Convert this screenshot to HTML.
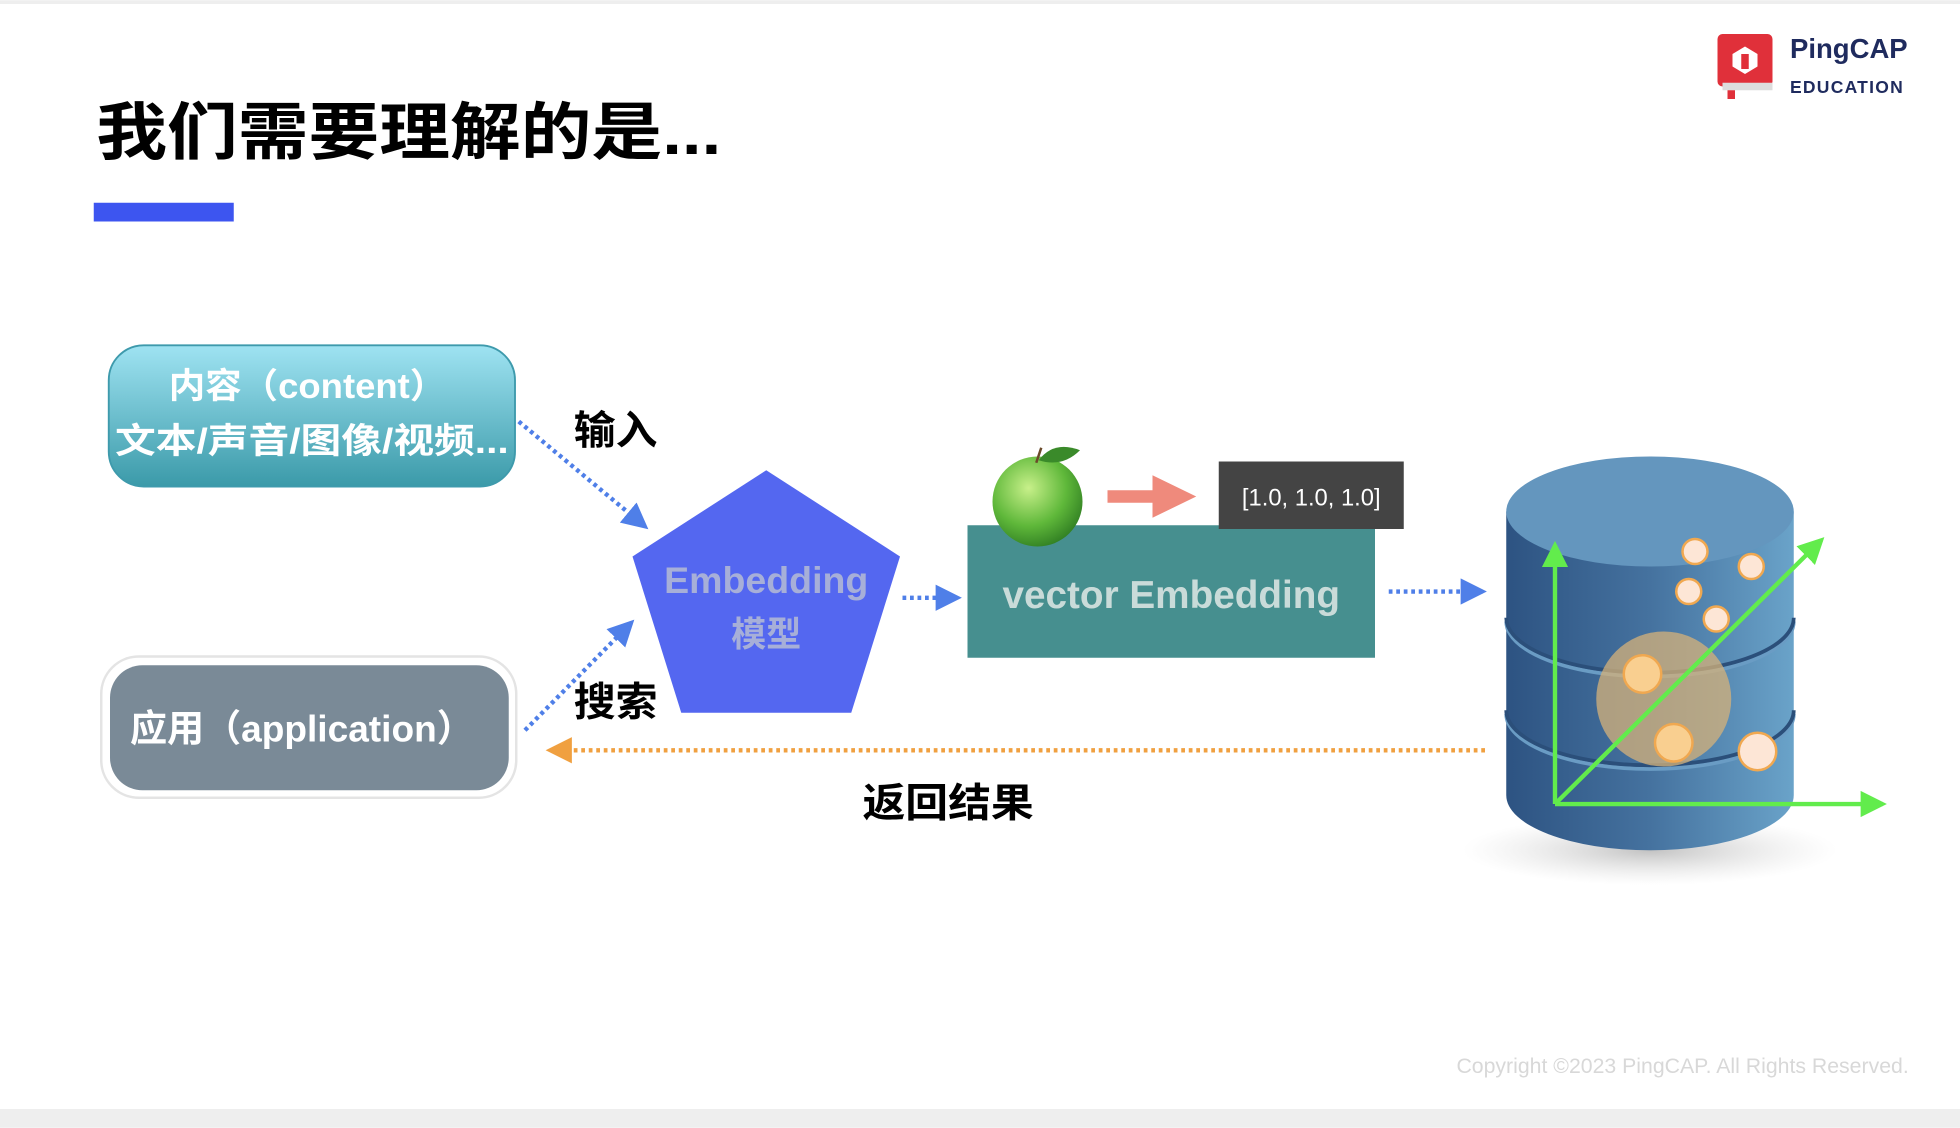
<!DOCTYPE html>
<html><head><meta charset="utf-8"><style>
html,body{margin:0;padding:0;background:#fff;}
svg{display:block;}
text{font-family:"Liberation Sans","Noto Sans CJK SC",sans-serif;}
</style></head><body>
<svg width="1960" height="1128" viewBox="0 0 1568 902" xmlns="http://www.w3.org/2000/svg">
<defs>
<linearGradient id="gc" x1="0" y1="0" x2="0" y2="1"><stop offset="0" stop-color="#9fe3f2"/><stop offset="1" stop-color="#3b9aa9"/></linearGradient>
<linearGradient id="gdb" x1="0" y1="0" x2="1" y2="0"><stop offset="0" stop-color="#2d5382"/><stop offset="0.5" stop-color="#45729f"/><stop offset="1" stop-color="#6aa3c9"/></linearGradient>
<radialGradient id="gap" cx="0.4" cy="0.35" r="0.7"><stop offset="0" stop-color="#c8f08a"/><stop offset="0.6" stop-color="#5fb83a"/><stop offset="1" stop-color="#2f7d22"/></radialGradient>
<radialGradient id="gsh" cx="0.5" cy="0.5" r="0.5"><stop offset="0" stop-color="#999" stop-opacity="0.6"/><stop offset="1" stop-color="#ccc" stop-opacity="0"/></radialGradient>
<marker id="mb" markerWidth="6" markerHeight="6" refX="5" refY="3" orient="auto" markerUnits="strokeWidth"><path d="M0,0 L6,3 L0,6z" fill="#4f7fe8"/></marker>
<marker id="mo" markerWidth="6" markerHeight="6" refX="5" refY="3" orient="auto" markerUnits="strokeWidth"><path d="M0,0 L6,3 L0,6z" fill="#f0a040"/></marker>
<marker id="mg" markerWidth="6" markerHeight="6" refX="5" refY="3" orient="auto" markerUnits="strokeWidth"><path d="M0,0 L6,3 L0,6z" fill="#62ec4c"/></marker>
</defs>
<rect x="0" y="0" width="1568" height="3" fill="#eee"/>
<rect x="0" y="887" width="1568" height="15" fill="#eee"/>
<text x="77" y="123" font-size="50" font-weight="bold" fill="#000" textLength="500" lengthAdjust="spacingAndGlyphs">我们需要理解的是...</text>
<rect x="75" y="162" width="112" height="15" fill="#3d55f0"/>
<rect x="1374" y="27" width="44" height="42" rx="4" fill="#e0303a"/>
<rect x="1378" y="66" width="40" height="6" fill="#ddd"/>
<rect x="1382" y="72" width="6" height="7" fill="#e0303a"/>
<path d="M1396,37 l10,6 v10 l-10,6 l-10,-6 v-10z" fill="#fff"/>
<path d="M1393,43 h6 v12 h-6z" fill="#e0303a"/>
<text x="1432" y="46" font-size="22" font-weight="bold" fill="#1f2b5e">PingCAP</text>
<text x="1432" y="74" font-size="14" font-weight="bold" fill="#1f2b5e" letter-spacing="1">EDUCATION</text>
<rect x="87" y="276" width="325" height="113" rx="28" fill="url(#gc)" stroke="#3e9aac" stroke-width="1.5"/>
<text x="135" y="318" font-size="28" font-weight="bold" fill="#fff" textLength="222" lengthAdjust="spacingAndGlyphs">内容（content）</text>
<text x="92" y="362" font-size="28" font-weight="bold" fill="#fff" textLength="315" lengthAdjust="spacingAndGlyphs">文本/声音/图像/视频...</text>
<rect x="81" y="525" width="332" height="113" rx="30" fill="#fff" stroke="#e4e4e4" stroke-width="2"/>
<rect x="88" y="532" width="319" height="100" rx="26" fill="#7a8a97"/>
<text x="104" y="593" font-size="30" font-weight="bold" fill="#fff" textLength="275" lengthAdjust="spacingAndGlyphs">应用（application）</text>
<polygon points="613,376 720,445 681,570 545,570 506,445" fill="#5467f0"/>
<text x="613" y="474" font-size="30" font-weight="bold" fill="#a7afd8" text-anchor="middle">Embedding</text>
<text x="613" y="517" font-size="28" font-weight="bold" fill="#a7afd8" text-anchor="middle">模型</text>
<g stroke="#4f7fe8" stroke-width="3.5" stroke-dasharray="3,3" fill="none">
<line x1="415" y1="337" x2="516" y2="421" marker-end="url(#mb)"/>
<line x1="420" y1="584" x2="505" y2="498" marker-end="url(#mb)"/>
<line x1="722" y1="478" x2="766" y2="478" marker-end="url(#mb)"/>
<line x1="1111" y1="473" x2="1186" y2="473" marker-end="url(#mb)"/>
</g>
<text x="459" y="355" font-size="32" font-weight="bold" fill="#000" textLength="67" lengthAdjust="spacingAndGlyphs">输入</text>
<text x="459" y="572" font-size="32" font-weight="bold" fill="#000" textLength="67" lengthAdjust="spacingAndGlyphs">搜索</text>
<rect x="774" y="420" width="326" height="106" fill="#468f8f"/>
<text x="802" y="486" font-size="31" font-weight="bold" fill="#c9dbd9" textLength="270" lengthAdjust="spacingAndGlyphs">vector Embedding</text>
<ellipse cx="830" cy="401" rx="36" ry="36" fill="url(#gap)"/>
<path d="M831,368 q12,-16 33,-8 q-14,14 -33,8z" fill="#3a8a2a"/>
<line x1="829" y1="370" x2="833" y2="358" stroke="#6b4a2a" stroke-width="2"/>
<polygon points="886,392 922,392 922,380 957,397 922,414 922,402 886,402" fill="#ef8a7c"/>
<rect x="975" y="369" width="148" height="54" fill="#444"/>
<text x="1049" y="404" font-size="19" fill="#fff" text-anchor="middle">[1.0, 1.0, 1.0]</text>
<line x1="1188" y1="600" x2="440" y2="600" stroke="#f0a040" stroke-width="3.5" stroke-dasharray="3,3" marker-end="url(#mo)"/>
<text x="690" y="653" font-size="32" font-weight="bold" fill="#000" textLength="137" lengthAdjust="spacingAndGlyphs">返回结果</text>
<ellipse cx="1320" cy="680" rx="150" ry="28" fill="url(#gsh)"/>
<path d="M1205,409 V636 A115,44 0 0 0 1435,636 V409z" fill="url(#gdb)"/>
<path d="M1205,497 A115,44 0 0 0 1435,497" fill="none" stroke="#6a9cc4" stroke-width="3"/>
<path d="M1205,494 A115,44 0 0 0 1435,494" fill="none" stroke="#2b4f7a" stroke-width="3"/>
<path d="M1205,571 A115,44 0 0 0 1435,571" fill="none" stroke="#6a9cc4" stroke-width="3"/>
<path d="M1205,568 A115,44 0 0 0 1435,568" fill="none" stroke="#2b4f7a" stroke-width="3"/>
<ellipse cx="1320" cy="409" rx="115" ry="44" fill="#6496be"/>
<circle cx="1331" cy="559" r="54" fill="#d6b27a" opacity="0.75"/>
<g fill="#fde6d6" stroke="#f0a850" stroke-width="2">
<circle cx="1356" cy="441" r="10"/><circle cx="1401" cy="453" r="10"/><circle cx="1351" cy="473" r="10"/><circle cx="1373" cy="495" r="10"/>
<circle cx="1406" cy="601" r="15"/>
</g>
<g fill="#f9cf90" stroke="#f0a850" stroke-width="2">
<circle cx="1314" cy="539" r="15"/><circle cx="1339" cy="594" r="15"/>
</g>
<g stroke="#62ec4c" stroke-width="3.5" fill="none">
<line x1="1244" y1="643" x2="1244" y2="436" marker-end="url(#mg)"/>
<line x1="1244" y1="643" x2="1506" y2="643" marker-end="url(#mg)"/>
<line x1="1244" y1="643" x2="1457" y2="432" marker-end="url(#mg)"/>
</g>
<text x="1527" y="858" font-size="17" fill="#d8d8d8" text-anchor="end">Copyright ©2023 PingCAP. All Rights Reserved.</text>
</svg>
</body></html>
